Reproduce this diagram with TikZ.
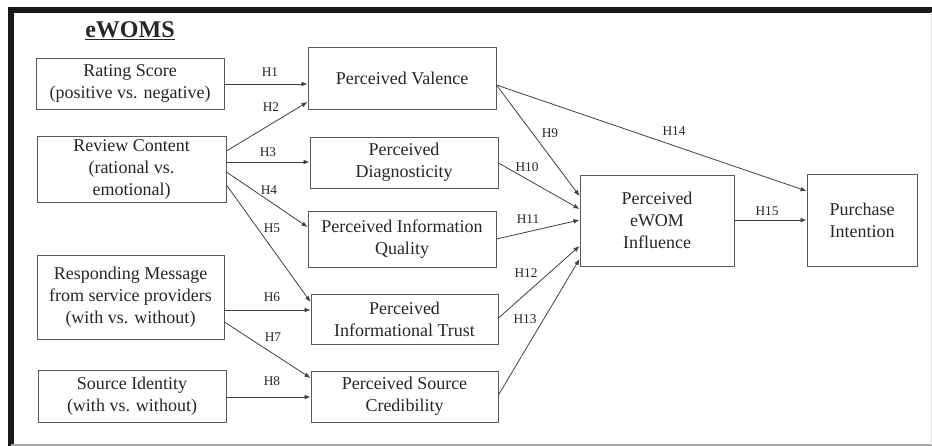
\documentclass[tikz,border=0pt]{standalone}
\usepackage{fontspec}
\setmainfont{Liberation Serif}
\usepackage{tikz}
\usetikzlibrary{arrows.meta,calc}

\begin{document}
\begin{tikzpicture}[
  x=0.75pt, y=-0.75pt,
  >={Latex[length=4.5pt,width=3.5pt]},
  box/.style={draw=black!65,line width=0.7pt,align=center,inner sep=2pt,
              text=black!85,font=\fontsize{13.5}{16.5}\selectfont},
  hl/.style={text=black!85,font=\fontsize{10}{12}\selectfont,inner sep=1pt},
  flow/.style={->,draw=black!75,line width=0.6pt}
]
  \useasboundingbox (0,0) rectangle (932,446);
  % frame
  \draw[line width=3.8pt,black!90] (8,10) -- (932,10);
  \draw[line width=4.5pt,black!90] (11,8) -- (11,446);
  \draw[line width=0.8pt,black!35] (11,445) -- (932,445);
  \draw[line width=0.5pt,black!12] (931,12) -- (931,445);

  \node[text=black!85,font=\fontsize{18}{20}\selectfont\bfseries] (title) at (130,31)
       {\underline{eWOMS}};

  % independent variables
  \node[box,minimum width=141pt,minimum height=38.25pt] (rate) at (130,83.5)
       {Rating Score\\(positive vs. negative)};
  \node[box,minimum width=141.75pt,minimum height=48.75pt] (rc) at (131.5,169.5)
       {Review Content\\(rational vs.\\emotional)};
  \node[box,minimum width=140.25pt,minimum height=63pt] (resp) at (130.5,297)
       {Responding Message\\from service providers\\(with vs. without)};
  \node[box,minimum width=141pt,minimum height=39pt] (src) at (132,396)
       {Source Identity\\(with vs. without)};

  % mediators
  \node[box,minimum width=141pt,minimum height=46.5pt] (val) at (402,78)
       {Perceived Valence};
  \node[box,minimum width=141pt,minimum height=38.25pt] (diag) at (404,162.5)
       {Perceived\\Diagnosticity};
  \node[box,minimum width=141pt,minimum height=42pt] (iq) at (402,239)
       {Perceived Information\\Quality};
  \node[box,minimum width=140.25pt,minimum height=37.5pt] (trust) at (404.5,319)
       {Perceived\\Informational Trust};
  \node[box,minimum width=140.25pt,minimum height=38.25pt] (cred) at (404.5,396.5)
       {Perceived Source\\Credibility};

  % outcomes
  \node[box,minimum width=115.5pt,minimum height=68.25pt] (infl) at (657,220.5)
       {Perceived\\eWOM\\Influence};
  \node[box,minimum width=82.5pt,minimum height=69pt] (pi) at (862,220)
       {Purchase\\Intention};

  % hypotheses
  \draw[flow] (rate.east |- 0,84) -- (val.west |- 0,84);
  \draw[flow] (rc.east |- 0,151) -- (val.west |- 0,102);
  \draw[flow] (rc.east |- 0,162) -- (diag.west |- 0,162);
  \draw[flow] (rc.east |- 0,172) -- (iq.west |- 0,227);
  \draw[flow] (rc.east |- 0,185) -- (trust.west |- 0,302);
  \draw[flow] (resp.east |- 0,310) -- (trust.west |- 0,310);
  \draw[flow] (resp.east |- 0,322) -- (cred.west |- 0,378);
  \draw[flow] (src.east |- 0,397) -- (cred.west |- 0,397);
  \draw[flow] (val.east |- 0,85) -- (infl.west |- 0,196);
  \draw[flow] (diag.east |- 0,163) -- (infl.west |- 0,209);
  \draw[flow] (iq.east |- 0,239) -- (infl.west |- 0,220);
  \draw[flow] (trust.east |- 0,318) -- (infl.west |- 0,246);
  \draw[flow] (cred.east |- 0,395) -- (infl.west |- 0,259);
  \draw[flow] (val.east |- 0,85) -- (pi.west |- 0,191);
  \draw[flow] (infl.east |- 0,220) -- (pi.west |- 0,220);

  \node[hl] (h1) at (270,72) {H1};
  \node[hl] (h2) at (271,107) {H2};
  \node[hl] (h3) at (268,152) {H3};
  \node[hl] (h4) at (269,190) {H4};
  \node[hl] (h5) at (272,228) {H5};
  \node[hl] (h6) at (272,297) {H6};
  \node[hl] (h7) at (273,337) {H7};
  \node[hl] (h8) at (272,381) {H8};
  \node[hl] (h9) at (550,133) {H9};
  \node[hl] (h10) at (527,167) {H10};
  \node[hl] (h11) at (528,219) {H11};
  \node[hl] (h12) at (526,273) {H12};
  \node[hl] (h13) at (525,319) {H13};
  \node[hl] (h14) at (674,131) {H14};
  \node[hl] (h15) at (767,211) {H15};
\end{tikzpicture}
\end{document}
